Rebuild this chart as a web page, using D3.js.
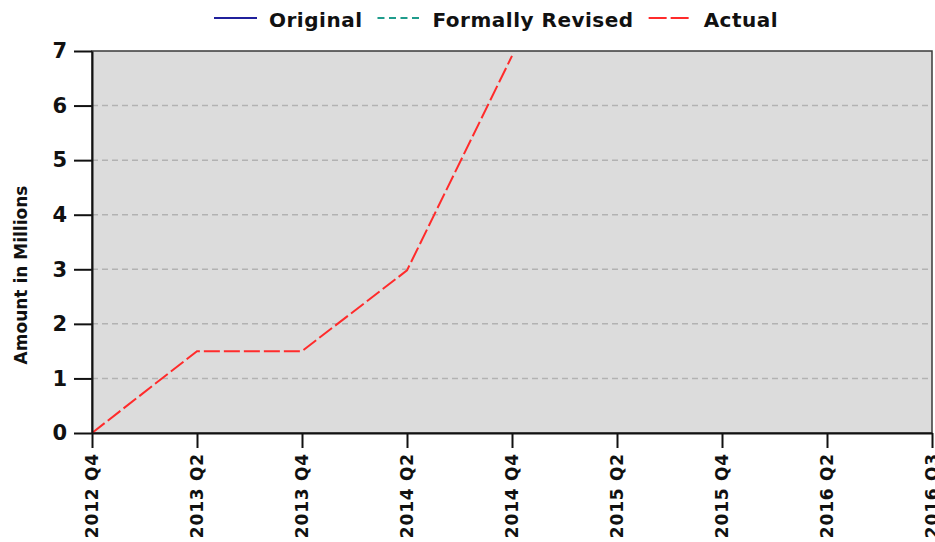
<!DOCTYPE html>
<html>
<head>
<meta charset="utf-8">
<script src="https://cdn.jsdelivr.net/npm/d3@7"></script>
<style>
    body { margin: 0; background: #ffffff; }
    text { font-family: 'DejaVu Sans', sans-serif; font-weight: bold; fill: #111111; }
</style>
</head>
<body>
<div id="chart"></div>
<script>

var QUARTERS = ['2012 Q4', '2013 Q2', '2013 Q4', '2014 Q2', '2014 Q4', '2015 Q2', '2015 Q4', '2016 Q2', '2016 Q3'];
var ACTUAL_QUARTERS = ['2012 Q4', '2013 Q2', '2013 Q4', '2014 Q2', '2014 Q4'];
var ACTUAL_VALUES = [0, 1.5, 1.5, 2.98, 6.91];
var Y_TICKS = [0, 1, 2, 3, 4, 5, 6, 7];
var LEGEND_NAMES = ['Original', 'Formally Revised', 'Actual'];
var LEGEND_COLORS = ['#20209c', '#1f9c8c', '#ff2b2b'];
var LEGEND_DASHES = [null, '7,4.5', '18,4'];

var w = 935;
var h = 542;
var margin = {top: 51, right: 3, bottom: 109, left: 92};

var svg = d3.select('#chart')
            .append('svg')
            .attr('width', w)
            .attr('height', h);

var xScale = d3.scalePoint()
    .domain(QUARTERS)
    .range([margin.left, w - margin.right]);

var yScale = d3.scaleLinear()
    .domain([0, 7])
    .range([h - margin.bottom, margin.top]);

// plot background
svg.append('rect')
    .attr('x', margin.left)
    .attr('y', margin.top)
    .attr('width', w - margin.right - margin.left)
    .attr('height', h - margin.bottom - margin.top)
    .attr('fill', '#dcdcdc')
    .attr('stroke', '#3a3a3a')
    .attr('stroke-width', 1.5);

// grid lines
svg.selectAll('line.grid')
    .data(Y_TICKS.filter(function(d) { return d > 0 && d < 7; }))
    .enter()
    .append('line')
    .attr('class', 'grid')
    .attr('x1', margin.left)
    .attr('x2', w - margin.right)
    .attr('y1', function(d) { return yScale(d); })
    .attr('y2', function(d) { return yScale(d); })
    .attr('stroke', '#b2b2b2')
    .attr('stroke-width', 1.5)
    .attr('stroke-dasharray', '6,4');

// actual line
var line = d3.line()
    .x(function(d, i) { return xScale(ACTUAL_QUARTERS[i]); })
    .y(function(d) { return yScale(d); });

svg.append('path')
    .datum(ACTUAL_VALUES)
    .attr('d', line)
    .attr('fill', 'none')
    .attr('stroke', LEGEND_COLORS[2])
    .attr('stroke-width', 2)
    .attr('stroke-dasharray', '16,4');

// axes
var yAxis = d3.axisLeft(yScale)
    .tickValues(Y_TICKS)
    .tickFormat(d3.format('d'))
    .tickSize(18)
    .tickPadding(7)
    .tickSizeOuter(0);
var xAxis = d3.axisBottom(xScale).tickSize(15).tickPadding(5).tickSizeOuter(0);

var gy = svg.append('g')
    .attr('class', 'y axis')
    .attr('transform', 'translate(' + margin.left + ',0)')
    .call(yAxis);

gy.selectAll('text')
    .attr('font-size', 21)
    .attr('font-family', "'DejaVu Sans', sans-serif")
    .attr('font-weight', 'bold');

var gx = svg.append('g')
    .attr('class', 'x axis')
    .attr('transform', 'translate(0,' + (h - margin.bottom) + ')')
    .call(xAxis);

gx.selectAll('text')
    .attr('font-size', 17)
    .attr('font-family', "'DejaVu Sans', sans-serif")
    .attr('font-weight', 'bold')
    .attr('letter-spacing', 0.8)
    .attr('text-anchor', 'end')
    .attr('dy', '0.35em')
    .attr('transform', 'translate(0,20) rotate(-90)')
    .attr('x', 0)
    .attr('y', 0);

svg.selectAll('.axis path, .axis line')
    .attr('stroke', '#111111')
    .attr('stroke-width', 2);

// y label
svg.append('text')
    .attr('text-anchor', 'middle')
    .attr('font-size', 17)
    .attr('transform', 'translate(27,275) rotate(-90)')
    .text('Amount in Millions');

// legend
var legend_x = 214;
var legend_y = 18;

LEGEND_NAMES.forEach(function(name, i) {
    var item = svg.append('g');
    item.append('line')
        .attr('x1', legend_x)
        .attr('x2', legend_x + 43)
        .attr('y1', legend_y)
        .attr('y2', legend_y)
        .attr('stroke', LEGEND_COLORS[i])
        .attr('stroke-width', 2)
        .attr('stroke-dasharray', LEGEND_DASHES[i]);
    var t = item.append('text')
        .attr('x', legend_x + 55)
        .attr('y', legend_y + 9)
        .attr('font-size', 20)
        .attr('letter-spacing', 0.5)
        .text(name);
    legend_x = legend_x + 55 + t.node().getComputedTextLength() + 15;
});

</script>
</body>
</html>
